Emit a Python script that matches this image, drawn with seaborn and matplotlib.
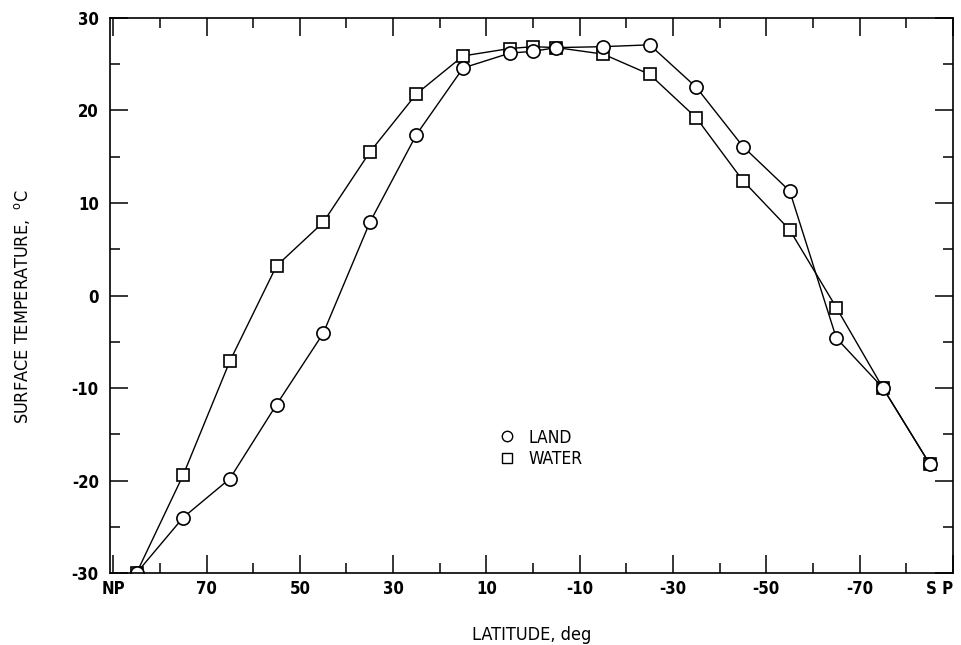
import matplotlib
matplotlib.use("Agg")
import matplotlib.pyplot as plt
from matplotlib.lines import Line2D
from matplotlib.ticker import MultipleLocator
from matplotlib import font_manager
import numpy as np
import pandas as pd
import seaborn as sns

# Zonal mean surface temperature, land vs. water
latitude = [85, 75, 65, 55, 45, 35, 25, 15, 5, 0, -5, -15, -25, -35, -45, -55, -65, -75, -85]
land = [-30.0, -24.0, -19.8, -11.8, -4.1, 7.9, 17.4, 24.6, 26.2, 26.4, 26.8, 26.9, 27.1,
        22.5, 16.1, 11.3, -4.6, -10.0, -18.2]
water = [-30.0, -19.4, -7.1, 3.2, 7.9, 15.5, 21.8, 25.9, 26.7, 26.9, 26.8, 26.1, 23.9,
         19.2, 12.4, 7.1, -1.3, -10.0, -18.2]

x_ticks = [90, 70, 50, 30, 10, -10, -30, -50, -70, -90]
x_tick_labels = ["NP", "70", "50", "30", "10", "-10", "-30", "-50", "-70", "S P"]
y_ticks = [-30, -20, -10, 0, 10, 20, 30]

sns.set_style("ticks")
plt.rcParams["font.family"] = ["DejaVu Sans"]
plt.rcParams["font.stretch"] = "condensed"
plt.rcParams["axes.unicode_minus"] = False

tick_font = font_manager.FontProperties(family="DejaVu Sans", stretch="condensed",
                                        weight="bold", size=12)
text_font = font_manager.FontProperties(family="DejaVu Sans", stretch="condensed",
                                        weight="normal", size=13)
legend_font = font_manager.FontProperties(family="DejaVu Sans", stretch="condensed",
                                          weight="normal", size=12.5)

df = pd.DataFrame({"lat": latitude, "land": land, "water": water})

fig = plt.figure(figsize=(9.62, 6.45), dpi=100)
ax = fig.add_axes([0.1143, 0.1116, 0.8763, 0.8605])

line_kw = dict(color="black", linewidth=1.0, markerfacecolor="white",
               markeredgecolor="black", markeredgewidth=1.2, sort=False)
sns.lineplot(data=df, x="lat", y="water", marker="s", markersize=8.3, ax=ax, **line_kw)
sns.lineplot(data=df, x="lat", y="land", marker="o", markersize=9.5, ax=ax, **line_kw)

ax.set_xlim(90.7, -90)
ax.set_ylim(-30, 30)

ax.set_xticks(x_ticks)
ax.set_xticklabels(x_tick_labels)
ax.xaxis.set_minor_locator(MultipleLocator(10))
ax.set_yticks(y_ticks)
ax.yaxis.set_minor_locator(MultipleLocator(5))
for lbl in ax.get_xticklabels() + ax.get_yticklabels():
    lbl.set_fontproperties(tick_font)

# the south-pole label sits flush against the right spine
ax.get_xticklabels()[-1].set_horizontalalignment("right")

ax.tick_params(which="both", direction="in", top=True, right=True, colors="black",
               width=1.1)
ax.tick_params(which="major", length=13)
ax.tick_params(which="minor", length=7)
ax.tick_params(axis="x", which="major", pad=5)
ax.tick_params(axis="y", which="major", pad=8)

for side in ax.spines.values():
    side.set_linewidth(1.2)
    side.set_color("black")

ax.set_xlabel("LATITUDE, deg", fontproperties=text_font, labelpad=20, color="black")
ax.set_ylabel("SURFACE TEMPERATURE,  $^{\\mathregular{o}}$C", fontproperties=text_font,
              color="black")
ax.yaxis.set_label_coords(-0.092, 0.48)

handles = [
    Line2D([], [], linestyle="none", marker="o", markersize=7.5, markerfacecolor="white",
           markeredgecolor="black", markeredgewidth=1.0),
    Line2D([], [], linestyle="none", marker="s", markersize=6.5, markerfacecolor="white",
           markeredgecolor="black", markeredgewidth=1.0),
]
leg = ax.legend(handles, ["LAND", "WATER"], loc="upper left", bbox_to_anchor=(0.45, 0.276),
                frameon=False, prop=legend_font, handlelength=1.0, handletextpad=0.75,
                labelspacing=0.18, borderpad=0.0)
for t in leg.get_texts():
    t.set_color("black")

fig.savefig("out.png", dpi=100, facecolor="white")
